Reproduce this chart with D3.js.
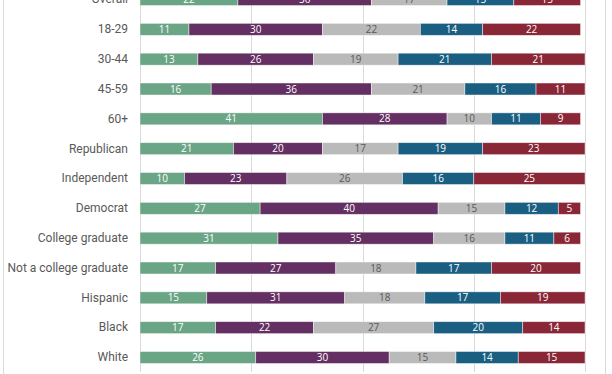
<!DOCTYPE html>
<html>
<head>
<meta charset="utf-8">
<script src="https://cdn.jsdelivr.net/npm/d3@7"></script>
<style>
  html, body { margin: 0; padding: 0; background: #fff; }
  svg { display: block; }
</style>
</head>
<body>
<div id="chart"></div>
<script>
const categories = ['Overall', '18-29', '30-44', '45-59', '60+', 'Republican', 'Independent',
  'Democrat', 'College graduate', 'Not a college graduate', 'Hispanic', 'Black', 'White'];
const seriesNames = ['s1', 's2', 's3', 's4', 's5'];
const s1 = [22, 11, 13, 16, 41, 21, 10, 27, 31, 17, 15, 17, 26];
const s2 = [30, 30, 26, 36, 28, 20, 23, 40, 35, 27, 31, 22, 30];
const s3 = [17, 22, 19, 21, 10, 17, 26, 15, 16, 18, 18, 27, 15];
const s4 = [15, 14, 21, 16, 11, 19, 16, 12, 11, 17, 17, 20, 14];
const s5 = [15, 22, 21, 11, 9, 23, 25, 5, 6, 20, 19, 14, 15];
const xTicks = [0, 25, 50, 75, 100];

const colors = ['#6aa585', '#642f62', '#bababa', '#1a5f82', '#8a2737'];
const textColors = ['#fff', '#fff', '#595959', '#fff', '#fff'];

const W = 612, H = 374;
const svg = d3.select('#chart').append('svg')
  .attr('width', W).attr('height', H);

// ── frame ──
svg.append('rect')
  .attr('x', 3.5).attr('y', -10).attr('width', 602).attr('height', H + 20)
  .attr('fill', 'none').attr('stroke', '#d9d9d9').attr('stroke-width', 1);

const x = d3.scaleLinear().domain([0, 100]).range([140, 585]);
const y = d3.scaleBand().domain(categories).range([-15.4, 372.4]).paddingInner(0.598).paddingOuter(0.299);

// ── gridlines ──
svg.append('g')
  .attr('transform', 'translate(0,372)')
  .call(d3.axisBottom(x).tickValues(xTicks).tickSize(-390).tickFormat(''))
  .call(g => g.select('.domain').remove())
  .selectAll('line').attr('stroke', '#d9d9d9').attr('shape-rendering', 'crispEdges');

// ── stack ──
const rows = categories.map((c, i) => ({ cat: c, s1: s1[i], s2: s2[i], s3: s3[i], s4: s4[i], s5: s5[i] }));
const stacked = d3.stack().keys(seriesNames)(rows);

const layers = svg.selectAll('.layer').data(stacked).enter().append('g')
  .attr('class', 'layer');

layers.selectAll('rect')
  .data((d, i) => d.map(p => ({ p, i })))
  .enter().append('rect')
  .attr('x', d => x(d.p[0]))
  .attr('y', d => y(d.p.data.cat))
  .attr('width', d => x(d.p[1]) - x(d.p[0]))
  .attr('height', y.bandwidth())
  .attr('fill', d => colors[d.i])
  .attr('stroke', '#fff')
  .attr('stroke-opacity', 0.6)
  .attr('stroke-width', 0.75);

layers.selectAll('text')
  .data((d, i) => d.map(p => ({ p, i })))
  .enter().append('text')
  .attr('x', d => (x(d.p[0]) + x(d.p[1])) / 2)
  .attr('y', d => y(d.p.data.cat) + y.bandwidth() / 2)
  .attr('dy', '0.36em')
  .attr('text-anchor', 'middle')
  .attr('fill', d => textColors[d.i])
  .style('font-family', '"Open Sans", sans-serif')
  .style('font-size', '10px')
  .text(d => d.p[1] - d.p[0]);

// ── category labels ──
svg.append('g')
  .attr('transform', 'translate(140,0)')
  .call(d3.axisLeft(y).tickSize(0).tickPadding(12))
  .call(g => g.select('.domain').remove())
  .selectAll('text')
  .attr('fill', '#595959')
  .style('font-family', 'Roboto, sans-serif')
  .style('font-size', '12px');
</script>
</body>
</html>
